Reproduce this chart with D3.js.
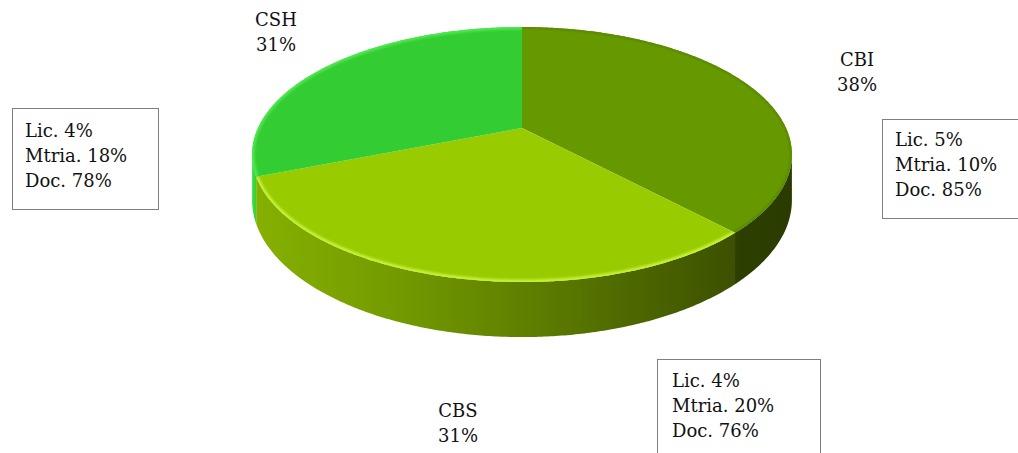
<!DOCTYPE html>
<html>
<head>
<meta charset="utf-8">
<script src="https://cdn.jsdelivr.net/npm/d3@7"></script>
<style>
  html, body { margin: 0; padding: 0; background: #fff; }
  svg { display: block; }
  text { font-family: "DejaVu Serif", "Liberation Serif", serif; font-size: 18px; fill: #111; }
</style>
</head>
<body>
<svg id="chart" width="1018" height="453"></svg>
<script>
// Share of each centre, clockwise from 12 o'clock
const centres = ["CBI", "CBS", "CSH"];
const shares = [38, 31, 31];

// Degree breakdown per centre (same order)
const licPct = [5, 4, 4];
const mtriaPct = [10, 20, 18];
const docPct = [85, 76, 78];

// Styling per centre
const topColors = { CBI: "#669900", CBS: "#99cc00", CSH: "#33cc33" };
const rimColors = { CBI: "#5a8800", CBS: "#c6f23a", CSH: "#4ee84e" };

// Layout: pie geometry (perspective disc) and label placement
const geo = { cx: 522, cy: 128, rx: 264, ry: 122, persp: 0.208, depth: 43.6 };
const nameLabels = {
  CBI: { x: 857, y: 66 },
  CBS: { x: 458, y: 417 },
  CSH: { x: 276, y: 26 }
};
const boxes = {
  CSH: { x: 12.5, y: 108.5, w: 146, h: 101, tx: 25, ty: 137 },
  CBI: { x: 882.5, y: 119.5, w: 200, h: 99, tx: 895, ty: 146 },
  CBS: { x: 657.5, y: 359.5, w: 163, h: 130, tx: 672, ty: 387 }
};
const lineGap = 25;

const svg = d3.select("#chart");
const defs = svg.append("defs");

// Disc coordinates (-1..1) to screen via linear scales, perspective applied first
const xs = d3.scaleLinear().domain([-1, 1]).range([geo.cx - geo.rx, geo.cx + geo.rx]);
const ys = d3.scaleLinear().domain([-1, 1]).range([geo.cy + geo.ry, geo.cy - geo.ry]);

function proj(angle, drop) {
  const w = 1 + geo.persp * Math.cos(angle);
  const px = xs(Math.sin(angle) / w);
  const py = ys(Math.cos(angle) / w) + (drop || 0) / w;
  return [px, py];
}
function arcPoints(a0, a1, drop) {
  const n = Math.max(2, Math.ceil(Math.abs(a1 - a0) / (Math.PI / 360)));
  const pts = [];
  for (let i = 0; i <= n; i++) pts.push(proj(a0 + (a1 - a0) * i / n, drop));
  return pts;
}
const hub = [xs(0), ys(0)];

const pie = d3.pie().sort(null).value(d => d.value);
const arcs = pie(centres.map((c, i) => ({ name: c, value: shares[i], i })));

const line = d3.line();

// Side wall visible between the two silhouette points
const visA = Math.acos(-geo.persp);
const visB = 2 * Math.PI - visA;

// Gradients for the walls
const gCBS = defs.append("linearGradient").attr("id", "wallCBS")
  .attr("gradientUnits", "userSpaceOnUse")
  .attr("x1", 256).attr("x2", 736).attr("y1", 0).attr("y2", 0);
[[0, "#86b000"], [0.3, "#739a00"], [0.65, "#587600"], [1, "#3c5000"]]
  .forEach(([o, c]) => gCBS.append("stop").attr("offset", o).attr("stop-color", c));
const gCBI = defs.append("linearGradient").attr("id", "wallCBI")
  .attr("gradientUnits", "userSpaceOnUse")
  .attr("x1", 733).attr("x2", 792).attr("y1", 0).attr("y2", 0);
[[0, "#2d4000"], [1, "#2a3b00"]]
  .forEach(([o, c]) => gCBI.append("stop").attr("offset", o).attr("stop-color", c));
const gCSH = defs.append("linearGradient").attr("id", "wallCSH")
  .attr("gradientUnits", "userSpaceOnUse")
  .attr("x1", 252).attr("x2", 262).attr("y1", 0).attr("y2", 0);
[[0, "#3ee03e"], [1, "#2db52d"]]
  .forEach(([o, c]) => gCSH.append("stop").attr("offset", o).attr("stop-color", c));

defs.append("filter").attr("id", "soft").attr("x", "-5%").attr("y", "-5%")
  .attr("width", "110%").attr("height", "110%")
  .append("feGaussianBlur").attr("stdDeviation", 1.3);

const pieG = svg.append("g");

// Walls
arcs.forEach(d => {
  const s = Math.max(d.startAngle, visA);
  const e = Math.min(d.endAngle, visB);
  if (e <= s) return;
  const top = arcPoints(s, e, 0);
  const bot = arcPoints(e, s, geo.depth);
  pieG.append("path")
    .attr("d", line(top.concat(bot)) + "Z")
    .attr("fill", `url(#wall${d.data.name})`);
});

// Top faces with a soft bevel along the rim
arcs.forEach((d, i) => {
  const pts = [hub].concat(arcPoints(d.startAngle, d.endAngle, 0));
  const pathD = line(pts) + "Z";
  defs.append("clipPath").attr("id", "clip" + i).append("path").attr("d", pathD);
  pieG.append("path").attr("d", pathD).attr("fill", topColors[d.data.name]);
  pieG.append("g").attr("clip-path", `url(#clip${i})`)
    .append("path")
    .attr("d", line(arcPoints(d.startAngle, d.endAngle, 0)))
    .attr("fill", "none")
    .attr("stroke", rimColors[d.data.name])
    .attr("stroke-width", d.data.name === "CBI" ? 4 : 5)
    .attr("filter", "url(#soft)");
});

// Name + share labels
arcs.forEach(d => {
  const p = nameLabels[d.data.name];
  const t = svg.append("text").attr("text-anchor", "middle");
  t.append("tspan").attr("x", p.x).attr("y", p.y).text(d.data.name);
  t.append("tspan").attr("x", p.x).attr("y", p.y + lineGap).text(d.data.value + "%");
});

// Breakdown boxes
centres.forEach((c, i) => {
  const b = boxes[c];
  svg.append("rect")
    .attr("x", b.x).attr("y", b.y).attr("width", b.w).attr("height", b.h)
    .attr("fill", "#fff").attr("stroke", "#7f7f7f").attr("stroke-width", 1);
  const rows = [`Lic. ${licPct[i]}%`, `Mtria. ${mtriaPct[i]}%`, `Doc. ${docPct[i]}%`];
  const t = svg.append("text");
  rows.forEach((r, j) => t.append("tspan").attr("x", b.tx).attr("y", b.ty + j * lineGap).text(r));
});
</script>
</body>
</html>
